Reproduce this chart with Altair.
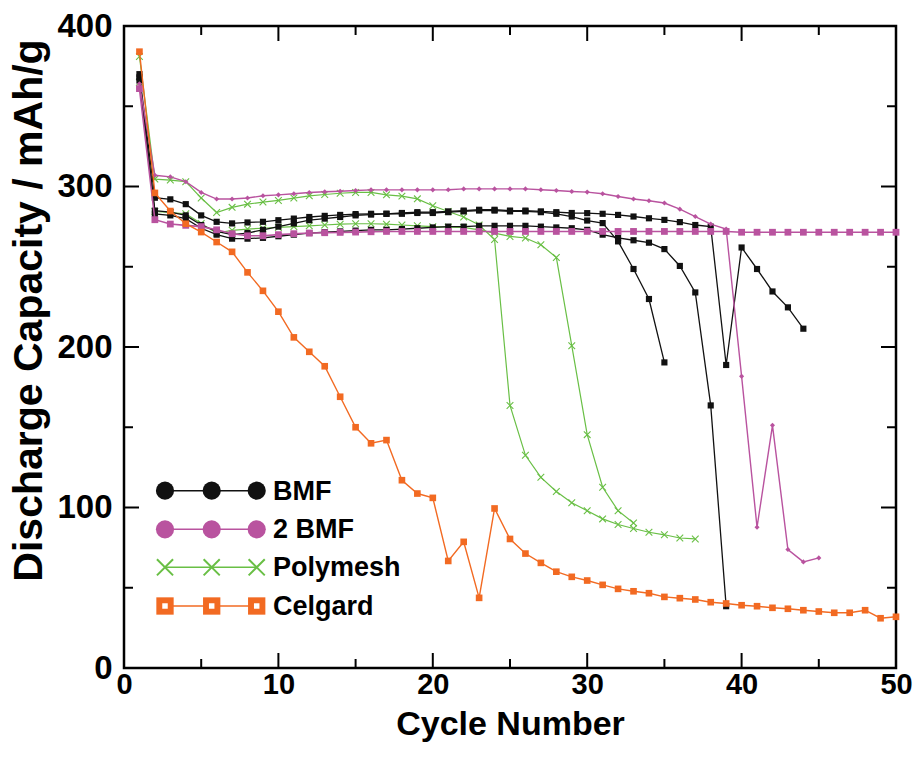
import altair as alt
import pandas as pd

FONT = "Liberation Sans"

# Discharge capacity (mAh/g) of each cell, one value per cycle starting at cycle 1
bmf_1 = [366, 285, 284, 282, 276, 272, 270, 271, 273, 275,
         277, 279, 280, 281, 282, 282.5, 283, 283, 283.5, 283.5,
         284, 284.5, 285, 285, 284.5, 284.5, 284, 283, 281.3, 278.8,
         277.2, 265.8, 248.6, 229.9, 190.4]
bmf_2 = [368, 283, 282, 280, 274, 270, 267.5, 267.5, 268, 269,
         270, 271, 271.5, 272, 272.5, 273, 273, 273.5, 274, 274.5,
         275, 275, 275.5, 275.5, 275.5, 275.5, 275, 274.5, 274, 273,
         270, 268, 266.5, 265, 261, 250.5, 234, 163.6, 38.5]
bmf_3 = [370, 293, 292, 289, 282, 278, 277, 277.6, 278, 279,
         280, 281, 281.7, 282.3, 282.8, 283, 283, 283.5, 284, 284,
         284.5, 285, 285.5, 285.5, 285, 285, 284.5, 284, 283.5, 283.4,
         283, 282.3, 281.3, 280.2, 279.2, 277.8, 276, 275, 188.8, 262,
         248.6, 234.6, 224.7, 211.4]
two_bmf_1 = [364, 307, 306, 303, 296.3, 292.2, 292.2, 292.8, 294.2, 294.8,
             295.5, 296.3, 296.7, 297, 297.5, 297.9, 297.9, 297.9, 297.9, 297.9,
             298, 298.5, 298.5, 298.5, 298.5, 298.5, 298, 297.5, 296.9, 296.5,
             295.5, 293.8, 292.2, 291.1, 289.7, 285.9, 281.3, 276.6, 273.5, 181.7,
             87.7, 151.2, 73.8, 66.1, 68.6]
two_bmf_2 = [361, 279.3, 276.6, 275.8, 275, 273, 270.6, 269.3, 269.3, 270,
             270.6, 271, 271.2, 271.4, 271.6, 271.8, 272, 272, 272, 272,
             272, 272, 272, 272, 272, 272, 272, 272, 272, 272,
             272, 272, 272, 272, 272, 272, 272, 272, 272, 271.5,
             271.5, 271.5, 271.5, 271.5, 271.5, 271.5, 271.5, 271.5, 271.5, 271.5]
polymesh_1 = [381, 304.6, 304, 303, 292.8, 283.8, 287, 289, 290.3, 291.3,
              292.8, 294.2, 295, 295.8, 296.3, 296.3, 294.8, 294, 292.3, 288,
              284.4, 281, 276, 267, 163.6, 132.5, 118.8, 110, 103, 98,
              92.9, 89.4, 86.9, 84.6, 83, 81, 80.4]
polymesh_2 = [365, 284.4, 283.8, 283, 277, 271, 272.7, 273.5, 274, 274.5,
              275, 275.5, 276, 276.5, 276.8, 276.8, 276.5, 276, 275.5, 275,
              274.7, 274.5, 273, 271, 268.9, 267.9, 263.7, 255.8, 200.8, 145.4,
              112.6, 98, 90.4]
celgard = [384, 296, 284.7, 276.8, 271.6, 265.4, 259.3, 246.5, 235, 222,
           206, 197, 188, 169, 150, 140, 142, 117, 108.7, 106,
           66.7, 78.6, 43.7, 99.4, 80.4, 71.3, 65.5, 60, 56.8, 54.5,
           51.8, 49.3, 47.8, 46.6, 44.3, 43.5, 42.7, 41, 40.2, 39.1,
           38.5, 37.5, 36.9, 36, 35.2, 34.4, 34.4, 36, 31, 31.9]

legend_labels = ["BMF", "2 BMF", "Polymesh", "Celgard"]

x_major = [0, 10, 20, 30, 40, 50]
x_minor = [5, 15, 25, 35, 45]
y_major = [0, 100, 200, 300, 400]
y_minor = [50, 150, 250, 350]

BLACK = "#111111"
MAGENTA = "#b9539f"
GREEN = "#69bf45"
ORANGE = "#f26a22"
CROSS = "M-1,-1L1,1M-1,1L1,-1"

W, H = 772, 642

xscale = alt.Scale(domain=[0, 50], nice=False, zero=False)
yscale = alt.Scale(domain=[0, 400], nice=False, zero=False)

x_axis = alt.Axis(values=x_major, title="Cycle Number", grid=False, domain=False,
                  ticks=False, tickSize=0, labelPadding=2, labelFlush=False,
                  labelFont=FONT, labelFontSize=29, labelFontWeight="bold",
                  labelColor="black", titleFont=FONT, titleFontSize=34,
                  titleFontWeight="bold", titleColor="black", titleY=66,
                  titleBaseline="alphabetic")
y_axis = alt.Axis(values=y_major, title="Discharge Capacity / mAh/g", grid=False,
                  domain=False, ticks=False, tickSize=0, labelPadding=12,
                  labelFlush=False, labelFont=FONT, labelFontSize=33,
                  labelFontWeight="bold", labelColor="black", titleFont=FONT,
                  titleFontSize=41, titleFontWeight="bold", titleColor="black",
                  titleX=-83, titleY=284, titleAlign="center",
                  titleBaseline="alphabetic", titleAngle=270)

# (values, line colour, line width, marker shape, marker size, filled)
runs = [
    (polymesh_2, GREEN, 1.2, CROSS, 45, False),
    (polymesh_1, GREEN, 1.2, CROSS, 45, False),
    (bmf_2, BLACK, 1.3, "square", 38, True),
    (bmf_1, BLACK, 1.3, "square", 38, True),
    (bmf_3, BLACK, 1.3, "square", 38, True),
    (two_bmf_2, MAGENTA, 1.6, "square", 46, True),
    (two_bmf_1, MAGENTA, 1.4, "diamond", 26, True),
    (celgard, ORANGE, 1.4, "square", 44, True),
]

layers = []
for values, color, lw, shape, size, filled in runs:
    df = pd.DataFrame({"cycle": list(range(1, len(values) + 1)), "capacity": values})
    base = alt.Chart(df).encode(
        x=alt.X("cycle:Q", scale=xscale, axis=x_axis),
        y=alt.Y("capacity:Q", scale=yscale, axis=y_axis),
    )
    layers.append(base.mark_line(color=color, strokeWidth=lw))
    if filled:
        pts = base.mark_point(shape=shape, size=size, filled=True, color=color,
                              opacity=1, strokeWidth=0)
    else:
        pts = base.mark_point(shape=shape, size=size, filled=False, color=color,
                              opacity=1, strokeWidth=1.1)
    layers.append(pts)


# inward ticks on all four sides of the frame
def yticks(vals, length):
    d = alt.Chart(pd.DataFrame({"capacity": vals}))
    enc_y = alt.Y("capacity:Q", scale=yscale, axis=y_axis)
    return [
        d.mark_rule(color="black", strokeWidth=2).encode(y=enc_y, x=alt.value(0), x2=alt.value(length)),
        d.mark_rule(color="black", strokeWidth=2).encode(y=enc_y, x=alt.value(W), x2=alt.value(W - length)),
    ]


def xticks(vals, length):
    d = alt.Chart(pd.DataFrame({"cycle": vals}))
    enc_x = alt.X("cycle:Q", scale=xscale, axis=x_axis)
    return [
        d.mark_rule(color="black", strokeWidth=2).encode(x=enc_x, y=alt.value(H), y2=alt.value(H - length)),
        d.mark_rule(color="black", strokeWidth=2).encode(x=enc_x, y=alt.value(0), y2=alt.value(length)),
    ]


layers += yticks(y_major, 15) + yticks(y_minor, 9) + xticks(x_major, 15) + xticks(x_minor, 9)

# hand-drawn legend in the lower left of the plot
one = alt.Chart(pd.DataFrame({"k": [0]}))
mx = [41, 87.7, 132.7]
rows = [464.7, 503.3, 541.3, 580]
lcolors = [BLACK, MAGENTA, GREEN, ORANGE]
for i, (label, color, ry) in enumerate(zip(legend_labels, lcolors, rows)):
    layers.append(one.mark_rule(color=color, strokeWidth=1.5).encode(
        x=alt.value(mx[0]), x2=alt.value(mx[2]), y=alt.value(ry)))
    for px in mx:
        if i < 2:
            layers.append(one.mark_point(shape="circle", size=330, filled=True,
                                         color=color, opacity=1, strokeWidth=0).encode(
                x=alt.value(px), y=alt.value(ry)))
        elif i == 2:
            layers.append(one.mark_point(shape=CROSS, size=260, filled=False,
                                         color=color, opacity=1, strokeWidth=2).encode(
                x=alt.value(px), y=alt.value(ry)))
        else:
            layers.append(one.mark_point(shape="square", size=300, filled=True,
                                         color=color, opacity=1, strokeWidth=0).encode(
                x=alt.value(px), y=alt.value(ry)))
            layers.append(one.mark_point(shape="square", size=30, filled=True,
                                         color="white", opacity=1, strokeWidth=0).encode(
                x=alt.value(px), y=alt.value(ry)))
    layers.append(one.mark_text(text=label, font=FONT, fontSize=27, fontWeight="bold",
                                color="black", align="left", baseline="middle", dy=1).encode(
        x=alt.value(149), y=alt.value(ry)))

chart = alt.layer(*layers).properties(
    width=W, height=H, autosize="none",
    padding={"left": 124, "top": 26, "right": 21, "bottom": 91},
    background="white",
).configure_view(stroke="black", strokeWidth=2.5)

chart.save("out.html", embed_options={"renderer": "svg", "actions": False})
